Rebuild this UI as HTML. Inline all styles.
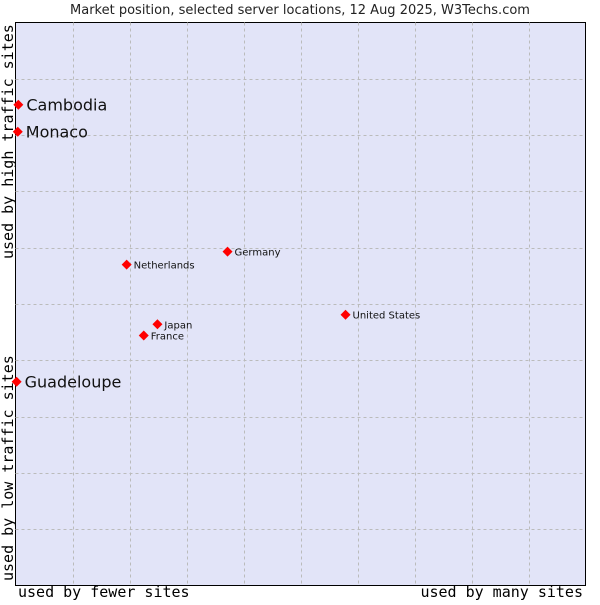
<!DOCTYPE html>
<html><head><meta charset="utf-8"><style>
body{margin:0;background:#fff;width:600px;height:600px;overflow:hidden}
svg text{font-family:"DejaVu Sans","Liberation Sans",sans-serif}
.mono{font-family:"DejaVu Sans Mono","Liberation Mono",monospace}
</style></head><body>
<svg id="chart" width="600" height="600">
<text x="300" y="14" text-anchor="middle" font-size="13" fill="#222">Market position, selected server locations, 12 Aug 2025, W3Techs.com</text>
<rect x="15.5" y="22.5" width="570" height="563" fill="#e2e4f8" stroke="#000"/>
<g id="grid"></g>
<g id="marks"></g>
<text class="mono" x="18" y="597" font-size="15">used by fewer sites</text>
<text class="mono" x="583" y="597" font-size="15" text-anchor="end">used by many sites</text>
<text class="mono" transform="translate(13,259) rotate(-90)" font-size="15">used by high traffic sites</text>
<text class="mono" transform="translate(13,581) rotate(-90)" font-size="15">used by low traffic sites</text>
</svg>
<script>
const names=["Cambodia","Monaco","Guadeloupe","Netherlands","Germany","United States","Japan","France"];
const xVals=[0.5,0.4,0.2,19.5,37.2,57.9,24.9,22.5];
const yVals=[85.4,80.6,36.2,57.0,59.3,48.1,46.4,44.4];
const bigLabel=[true,true,true,false,false,false,false,false];
const L=15.5,R=585.5,T=22.5,B=585.5;
const sx=v=>L+(R-L)*v/100, sy=v=>B-(B-T)*v/100;
const ns="http://www.w3.org/2000/svg";
const grid=document.getElementById('grid'), marks=document.getElementById('marks');
for(let i=1;i<10;i++){
  const x=Math.round(L+57*i)+0.5, y=Math.round(T+56.3*i)+0.5;
  const v=document.createElementNS(ns,'line');
  
  
  v.setAttribute('x1',x);v.setAttribute('x2',x);v.setAttribute('y1',T);v.setAttribute('y2',B);
  v.setAttribute('stroke','#bbb');v.setAttribute('stroke-dasharray','3,3');grid.appendChild(v);
  const h=document.createElementNS(ns,'line');
  
  
  h.setAttribute('x1',L);h.setAttribute('x2',R);h.setAttribute('y1',y);h.setAttribute('y2',y);
  h.setAttribute('stroke','#bbb');h.setAttribute('stroke-dasharray','3,3');grid.appendChild(h);
}
names.forEach((n,i)=>{
  const x=sx(xVals[i]), y=sy(yVals[i]);
  const p=document.createElementNS(ns,'path');
  
  
  p.setAttribute('d',`M${x-5},${y}L${x},${y-5}L${x+5},${y}L${x},${y+5}Z`);
  p.setAttribute('fill','#f00');marks.appendChild(p);
  const t=document.createElementNS(ns,'text');
  
  
  t.setAttribute('x',x+(bigLabel[i]?8:7));t.setAttribute('y',y+(bigLabel[i]?6:4));
  t.setAttribute('font-size',bigLabel[i]?16:10);t.setAttribute('fill','#111');
  t.textContent=n;marks.appendChild(t);
});
</script>
</body></html>
